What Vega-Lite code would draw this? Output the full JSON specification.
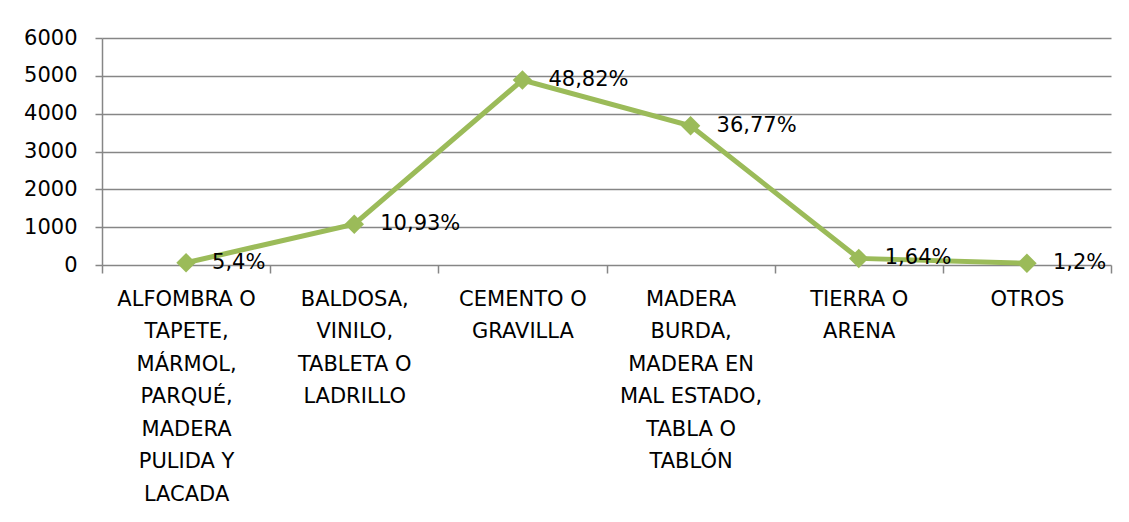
{
  "$schema": "https://vega.github.io/schema/vega-lite/v6.json",
  "autosize": {"type": "none"},
  "width": 1009,
  "height": 227,
  "padding": {"left": 102, "top": 38, "right": 18, "bottom": 257},
  "background": "white",
  "config": {
    "view": {"stroke": null},
    "font": "DejaVu Sans",
    "axis": {"labelFont": "DejaVu Sans", "labelColor": "#000000", "labelFontSize": 21, "domainColor": "#868686", "tickColor": "#868686", "gridColor": "#868686", "domainWidth": 1.5, "tickWidth": 1.5, "gridWidth": 1.5}
  },
  "data": {
    "values": [
      {"cat": "ALFOMBRA O|TAPETE,|MÁRMOL,|PARQUÉ,|MADERA|PULIDA Y|LACADA", "value": 60, "label": "5,4%"},
      {"cat": "BALDOSA,|VINILO,|TABLETA O|LADRILLO", "value": 1080, "label": "10,93%"},
      {"cat": "CEMENTO O|GRAVILLA", "value": 4890, "label": "48,82%"},
      {"cat": "MADERA|BURDA,|MADERA EN|MAL ESTADO,|TABLA O|TABLÓN", "value": 3680, "label": "36,77%"},
      {"cat": "TIERRA O|ARENA", "value": 175, "label": "1,64%"},
      {"cat": "OTROS", "value": 45, "label": "1,2%"}
    ]
  },
  "encoding": {
    "x": {
      "field": "cat", "type": "nominal", "sort": null,
      "scale": {"type": "band", "paddingInner": 0, "paddingOuter": 0},
      "axis": {"title": null, "labelAngle": 0, "labelExpr": "split(datum.label, '|')", "labelLineHeight": 32.5, "labelBaseline": "top", "tickSize": 8, "labelPadding": 15, "bandPosition": 0, "tickBand": "extent", "domain": false, "grid": false, "labelLimit": 0}
    },
    "y": {
      "field": "value", "type": "quantitative",
      "scale": {"domain": [0, 6000], "nice": false},
      "axis": {"title": null, "values": [0, 1000, 2000, 3000, 4000, 5000, 6000], "format": "d", "tickSize": 7, "labelPadding": 18, "grid": true, "domain": true}
    }
  },
  "layer": [
    {"mark": {"type": "line", "color": "#9BBB59", "strokeWidth": 5}},
    {"mark": {"type": "point", "shape": "diamond", "filled": true, "color": "#9BBB59", "size": 380, "opacity": 1}},
    {"mark": {"type": "text", "align": "left", "baseline": "middle", "dx": 26, "fontSize": 21, "font": "DejaVu Sans", "color": "#000000"}, "encoding": {"text": {"field": "label"}}}
  ]
}
